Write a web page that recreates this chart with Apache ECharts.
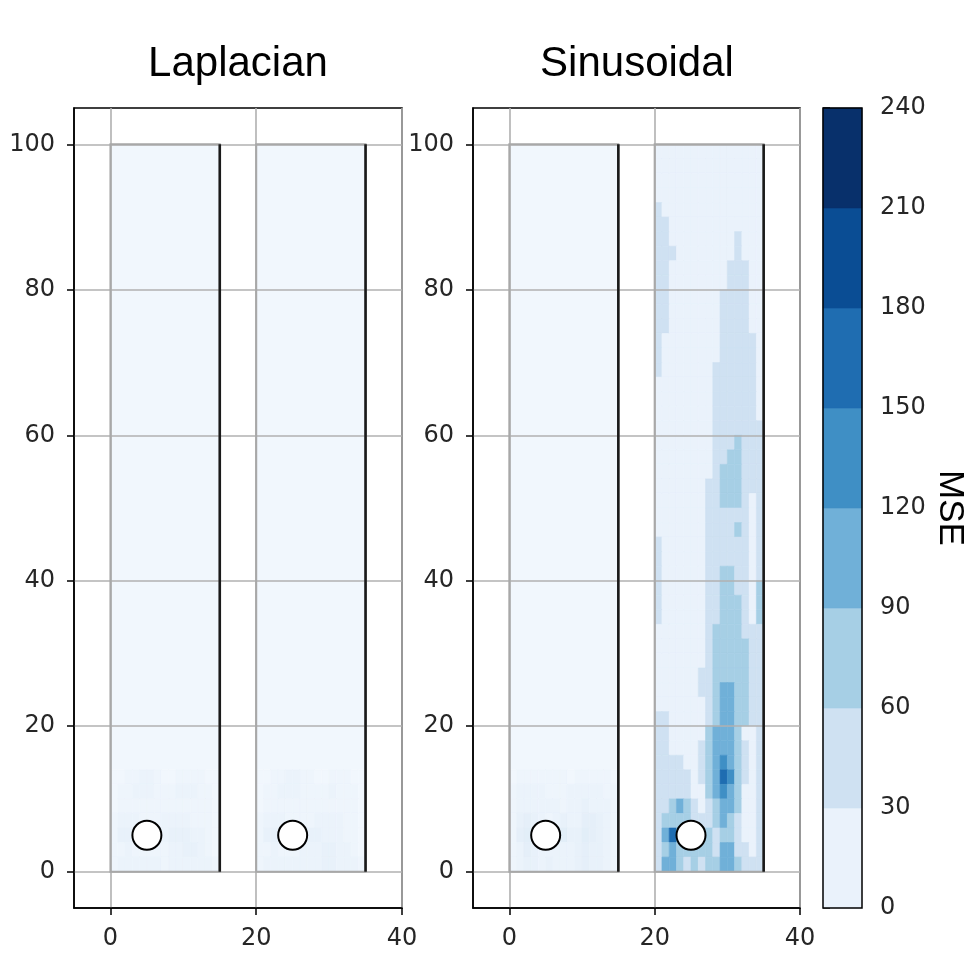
<!DOCTYPE html>
<html><head><meta charset="utf-8">
<script src="https://cdn.jsdelivr.net/npm/echarts@6/dist/echarts.min.js"></script>
<style>html,body{margin:0;padding:0;background:#fff}#c{width:968px;height:968px}</style>
</head><body><div id="c"></div>
<script>
// ---------- data ----------
const panelTitles = ['Laplacian', 'Sinusoidal'];
const colorbarName = 'MSE';
const xTicks = [0, 20, 40];
const yTicks = [0, 20, 40, 60, 80, 100];
const bandEdges = [0, 30, 60, 90, 120, 150, 180, 210, 240];
const bandColors = ['#eaf2fb', '#cfe1f2', '#a6cfe5', '#70b0d8', '#3f8fc5', '#1f6db1', '#0a4d94', '#08306b'];
const roomsX = [[0, 15], [20, 35]];
const roomY = [0, 100];
const sources = [[5, 5], [25, 5]];

// Sinusoidal, right room (x 20..35): MSE band index per 1x2 cell, rows from y=98 (top) to y=0
const sinRightBands = [
  '000000000000000', '000000000000000', '000000000000000', '000000000000000',
  '100000000000000', '110000000000000', '110000000001000', '111000000001000',
  '110000000011100', '110000000011100', '110000000111100', '110000000111100',
  '110000000111100', '100000000111110', '100000000111110', '100000001111110',
  '000000001111110', '000000001111110', '000000001111110', '000000001111111',
  '000000001112111', '000000001122111', '000000001222111', '000000011222111',
  '000000011222101', '000000011111101', '000000011112101', '100000011111101',
  '100000011111101', '100000011221101', '100000011221102', '100000011222102',
  '100000011222102', '000000012222111', '000000012222211', '000000012222211',
  '000000112222211', '000000112332211', '000000012332211', '110000012332211',
  '110000023332001', '110000123332101', '111100123432101', '111110123542101',
  '111110023432001', '112321012332001', '122221112321001', '135322221221001',
  '123222221331101', '133212122332111'
];
// faint fields: MSE in units of 3 per 1x2 cell for y 12..0 (rows top to bottom); above y=14 MSE ~0
const faintUnit = 3;
const faintTopY = 14;
const faintUpperValue = 0;
const lapLeft = ['001122100111100', '011222111222110', '011111111111110', '122211122221110',
                 '133211223332210', '112111112233210', '122222212222221'];
const lapRight = ['001122110011100', '011222111121110', '011111111111110', '122211112222110',
                  '133211233222110', '112111222332210', '122222222332221'];
const sinLeft = ['011111110111110', '122221112222211', '122222212232221', '134321232244321',
                 '145421353354321', '124322222343321', '123323222343321'];

// ---------- build cells ----------
function bandCells(rows, x0) {
  const out = [];
  rows.forEach((r, j) => {
    const y1 = roomY[1] - j * 2, y0 = y1 - 2;
    for (let i = 0; i < r.length; i++) {
      const b = +r[i];
      out.push([x0 + i, y0, x0 + i + 1, y1, (bandEdges[b] + bandEdges[b + 1]) / 2]);
    }
  });
  return out;
}
function faintCells(rows, x0, x1) {
  const out = [[x0, faintTopY, x1, roomY[1], faintUpperValue]];
  rows.forEach((r, j) => {
    const y1 = faintTopY - j * 2, y0 = y1 - 2;
    for (let i = 0; i < r.length; i++) out.push([x0 + i, y0, x0 + i + 1, y1, +r[i] * faintUnit]);
  });
  return out;
}
const lapData = faintCells(lapLeft, roomsX[0][0], roomsX[0][1]).concat(faintCells(lapRight, roomsX[1][0], roomsX[1][1]));
const sinLeftData = faintCells(sinLeft, roomsX[0][0], roomsX[0][1]);
const sinRightData = bandCells(sinRightBands, roomsX[1][0]);
const cbData = bandColors.map((c, i) => [0, bandEdges[i], 1, bandEdges[i + 1], (bandEdges[i] + bandEdges[i + 1]) / 2]);
const roomData = roomsX.map(r => [r[0], roomY[0], r[1], roomY[1]]);

// ---------- render ----------
function renderCell(params, api) {
  const a = api.coord([api.value(0), api.value(3)]);
  const b = api.coord([api.value(2), api.value(1)]);
  const c = api.visual('color');
  return { type: 'rect', shape: { x: a[0], y: a[1], width: b[0] - a[0], height: b[1] - a[1] },
           style: { fill: c, stroke: c, lineWidth: 0.6 } };
}
function renderRoom(params, api) {
  const a = api.coord([api.value(0), api.value(3)]);
  const b = api.coord([api.value(2), api.value(1)]);
  return { type: 'group', children: [
    { type: 'rect', shape: { x: a[0], y: a[1], width: b[0] - a[0], height: b[1] - a[1] },
      style: { fill: null, stroke: '#a8a8a8', lineWidth: 2 } },
    { type: 'line', shape: { x1: b[0], y1: a[1], x2: b[0], y2: b[1] },
      style: { stroke: '#1a1a1a', lineWidth: 2.6 } }
  ] };
}
function renderOutline(params, api) {
  const a = api.coord([0, bandEdges[bandEdges.length - 1]]);
  const b = api.coord([1, bandEdges[0]]);
  return { type: 'rect', shape: { x: a[0], y: a[1], width: b[0] - a[0], height: b[1] - a[1] },
           style: { fill: null, stroke: '#000', lineWidth: 1.5 } };
}

const tickFont = { fontSize: 24, color: '#262626', fontFamily: 'DejaVu Sans' };
const grids = [
  { left: 74, top: 108, width: 328, height: 800, show: true, borderColor: '#000', borderWidth: 1.5, outerBoundsMode: 'none', containLabel: false },
  { left: 473, top: 108, width: 327, height: 800, show: true, borderColor: '#000', borderWidth: 1.5, outerBoundsMode: 'none', containLabel: false },
  { left: 823, top: 108, width: 39, height: 800, outerBoundsMode: 'none', containLabel: false }
];
function xAx(g) {
  return { gridIndex: g, type: 'value', min: -5, max: 40, z: 3,
    axisLine: { show: true, onZero: false, lineStyle: { color: '#000', width: 1.5 } },
    axisTick: { show: true, customValues: xTicks, length: 7, lineStyle: { color: '#000', width: 1.5 } },
    axisLabel: Object.assign({ customValues: xTicks, margin: 19 }, tickFont),
    splitLine: { show: true, lineStyle: { color: '#b0b0b0', width: 1.6 } } };
}
function yAx(g) {
  return { gridIndex: g, type: 'value', min: -5, max: 105, z: 3,
    axisLine: { show: true, onZero: false, lineStyle: { color: '#000', width: 1.5 } },
    axisTick: { show: true, customValues: yTicks, length: 7, lineStyle: { color: '#000', width: 1.5 } },
    axisLabel: Object.assign({ customValues: yTicks, margin: 19 }, tickFont),
    splitLine: { show: true, lineStyle: { color: '#b0b0b0', width: 1.6 } } };
}
const cellEncode = { x: [0, 2], y: [1, 3] };
const option = {
  animation: false,
  backgroundColor: '#fff',
  title: panelTitles.map((t, i) => ({
    text: t, left: i === 0 ? 233 : 632, top: 38, textAlign: 'center',
    textStyle: { fontSize: 42, fontWeight: 'normal', color: '#000', fontFamily: 'Liberation Sans' }
  })),
  grid: grids,
  xAxis: [xAx(0), xAx(1), { gridIndex: 2, type: 'value', min: 0, max: 1, show: false }],
  yAxis: [yAx(0), yAx(1), {
    gridIndex: 2, type: 'value', min: 0, max: 240, interval: 30, position: 'right',
    name: colorbarName, nameLocation: 'middle', nameRotate: -90, nameGap: 70,
    nameTextStyle: { fontSize: 35, color: '#000', fontFamily: 'Liberation Sans' },
    axisLine: { show: false },
    axisTick: { show: true, length: 7, lineStyle: { color: '#000', width: 1.5 } },
    axisLabel: Object.assign({ margin: 18 }, tickFont),
    splitLine: { show: false }
  }],
  visualMap: [
    { type: 'continuous', show: false, min: 0, max: 30, dimension: 4, seriesIndex: [0, 1],
      inRange: { color: ['#f1f7fd', '#d3e4f3'] } },
    { type: 'piecewise', show: false, dimension: 4, seriesIndex: [2, 3],
      pieces: bandColors.map((c, i) => ({ gte: bandEdges[i], lt: bandEdges[i + 1], color: c })) }
  ],
  series: [
    { type: 'custom', xAxisIndex: 0, yAxisIndex: 0, renderItem: renderCell, encode: cellEncode, data: lapData, z: 2 },
    { type: 'custom', xAxisIndex: 1, yAxisIndex: 1, renderItem: renderCell, encode: cellEncode, data: sinLeftData, z: 2 },
    { type: 'custom', xAxisIndex: 1, yAxisIndex: 1, renderItem: renderCell, encode: cellEncode, data: sinRightData, z: 2 },
    { type: 'custom', xAxisIndex: 2, yAxisIndex: 2, renderItem: renderCell, encode: cellEncode, data: cbData, z: 2 },
    { type: 'custom', xAxisIndex: 2, yAxisIndex: 2, renderItem: renderOutline, data: [[0, 0]], z: 4 },
    { type: 'custom', xAxisIndex: 0, yAxisIndex: 0, renderItem: renderRoom, encode: cellEncode, data: roomData, z: 4 },
    { type: 'custom', xAxisIndex: 1, yAxisIndex: 1, renderItem: renderRoom, encode: cellEncode, data: roomData, z: 4 },
    { type: 'scatter', xAxisIndex: 0, yAxisIndex: 0, data: sources, symbolSize: 29, z: 5,
      itemStyle: { color: '#fff', borderColor: '#000', borderWidth: 2, opacity: 1 } },
    { type: 'scatter', xAxisIndex: 1, yAxisIndex: 1, data: sources, symbolSize: 29, z: 5,
      itemStyle: { color: '#fff', borderColor: '#000', borderWidth: 2, opacity: 1 } }
  ]
};
const chart = echarts.init(document.getElementById('c'));
chart.setOption(option);
</script>
</body></html>
